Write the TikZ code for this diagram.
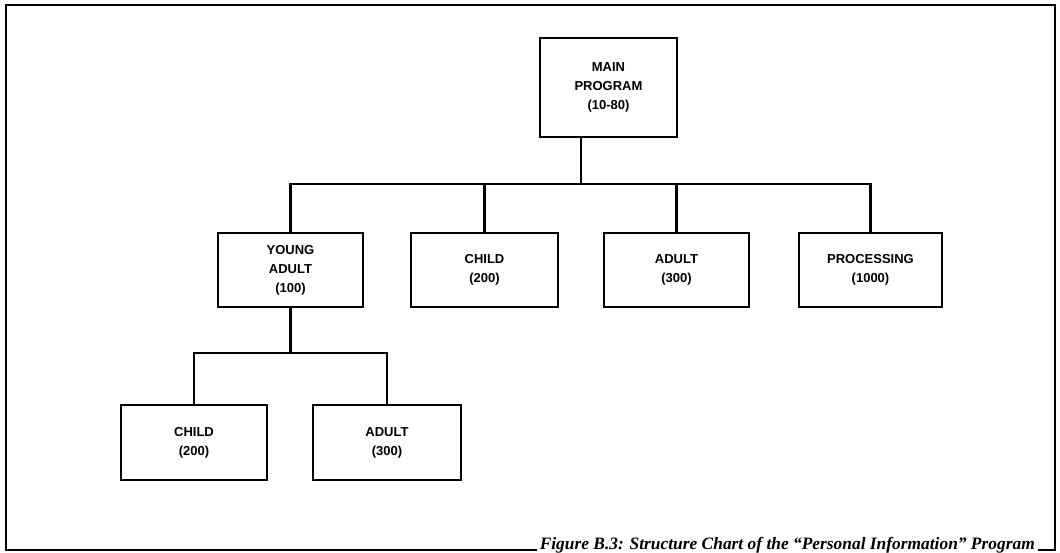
\documentclass[tikz,border=0pt]{standalone}
\usepackage{fontspec}
\setmainfont{Liberation Sans}
\newfontfamily\capfont{Liberation Serif}
\begin{document}
\begin{tikzpicture}[x=1pt,y=-1pt,
  box/.style={draw,line width=2.8pt,align=center,inner sep=0pt,font=\bfseries\fontsize{13}{19}\selectfont},
  conn/.style={line width=2.8pt},
  frame/.style={line width=2.8pt}]
\useasboundingbox (0,0) rectangle (1060,553);
% frame
\coordinate (tl) at (6,5);
\coordinate (tr) at (1055,5);
\coordinate (br) at (1055,550);
\coordinate (bl) at (6,550);
\coordinate (cl) at (537,550);
\coordinate (cr) at (1038,550);
\draw[frame] (cl) -- (bl) -- (tl) -- (tr) -- (br) -- (cr);
\node[anchor=base east,inner sep=0pt,font=\capfont\bfseries\itshape\fontsize{17.4}{19}\selectfont] (cap) at (1035,549)
  {Figure B.3: Structure Chart of the “Personal Information” Program};
% boxes
\node[box,minimum width=137pt,minimum height=99pt] (main) at (608.5,87.5) {MAIN\\PROGRAM\\(10-80)};
\node[box,minimum width=145pt,minimum height=74pt] (young) at (290.5,270) {YOUNG\\ADULT\\(100)};
\node[box,minimum width=147pt,minimum height=74pt] (child) at (484.5,270) {CHILD\\(200)};
\node[box,minimum width=145pt,minimum height=74pt] (adult) at (676.5,270) {ADULT\\(300)};
\node[box,minimum width=143pt,minimum height=74pt] (proc) at (870.5,270) {PROCESSING\\(1000)};
\node[box,minimum width=146pt,minimum height=75pt] (child2) at (194,442.5) {CHILD\\(200)};
\node[box,minimum width=148pt,minimum height=75pt] (adult2) at (387,442.5) {ADULT\\(300)};
% connectors
\coordinate (mb) at (581,137);
\draw[conn] (mb) -- (581,184);
\draw[conn] (young.north) |- (581,184) -| (proc.north);
\draw[conn] (child.north) -- (child.north |- 0,184);
\draw[conn] (adult.north) -- (adult.north |- 0,184);
\draw[conn] (young.south) -- (young.south |- 0,353);
\draw[conn] (child2.north) |- (young.south |- 0,353) -| (adult2.north);
\end{tikzpicture}
\end{document}
